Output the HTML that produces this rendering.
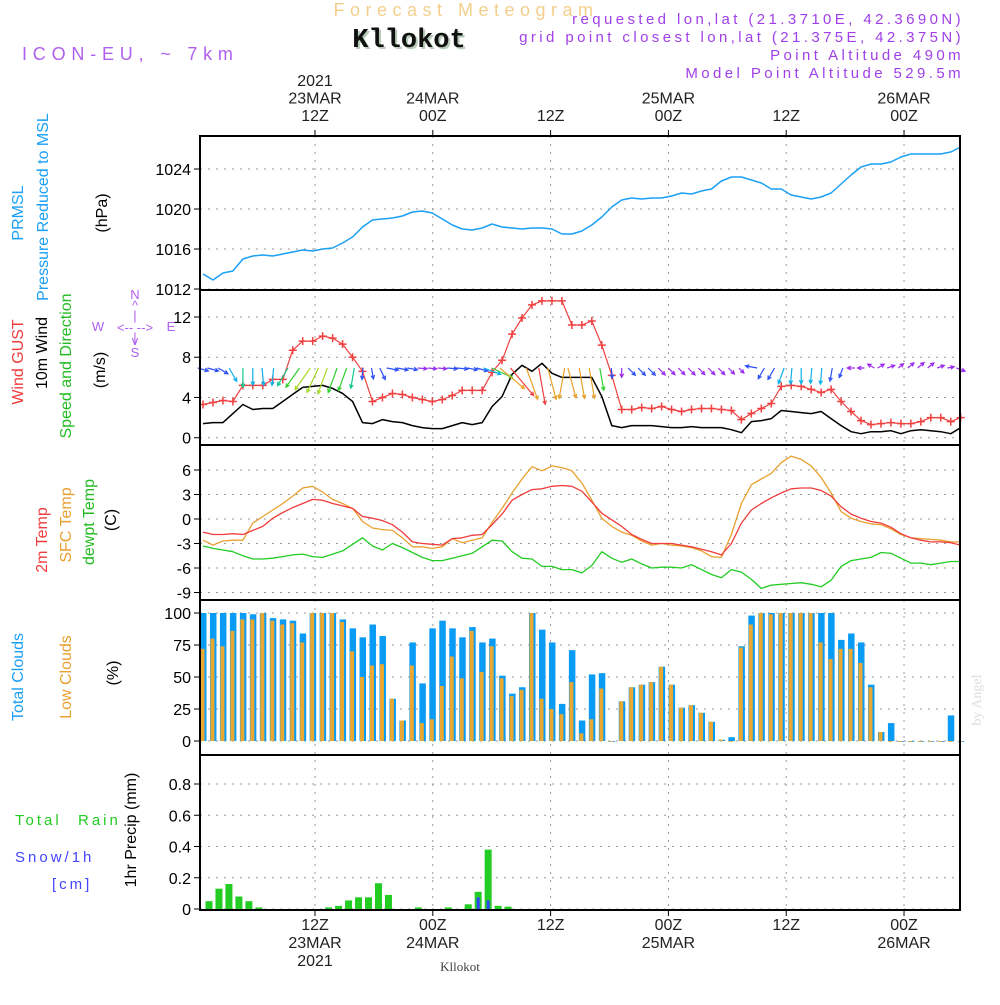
<!DOCTYPE html>
<html><head><meta charset="utf-8">
<style>
html,body{margin:0;padding:0;background:#fff;}
body{width:1000px;height:1000px;overflow:hidden;font-family:"Liberation Sans",sans-serif;}
svg text{font-family:"Liberation Sans",sans-serif;}
</style></head>
<body>
<svg id="chart" width="1000" height="1000" viewBox="0 0 1000 1000" xmlns="http://www.w3.org/2000/svg">
<text x="466" y="16" text-anchor="middle" font-size="18" fill="#f3cf8c" letter-spacing="5.5">Forecast Meteogram</text>
<text x="411" y="49" text-anchor="middle" font-size="27" font-weight="bold" fill="#b9cbb9" style="font-family:'Liberation Mono',monospace">Kllokot</text>
<text x="409" y="47" text-anchor="middle" font-size="27" font-weight="bold" fill="#111" style="font-family:'Liberation Mono',monospace">Kllokot</text>
<text x="22" y="60" font-size="18" fill="#b060ee" letter-spacing="5.8">ICON-EU, ~ 7km</text>
<g font-size="15" fill="#a040e8" text-anchor="end" letter-spacing="3.4">
<text x="964" y="24">requested lon,lat (21.3710E, 42.3690N)</text>
<text x="964" y="42">grid point closest lon,lat (21.375E, 42.375N)</text>
<text x="964" y="60">Point Altitude 490m</text>
<text x="964" y="78">Model Point Altitude 529.5m</text>
</g>
<g id="grid"></g>
<g id="marks"></g>
<g id="frames"></g>
<g id="labels"></g>
<text transform="translate(981,700) rotate(-90)" text-anchor="middle" font-size="14" fill="#ddd" style="font-family:'Liberation Serif',serif">by Angel</text>
<text x="460" y="971" text-anchor="middle" font-size="13" fill="#444" style="font-family:'Liberation Serif',serif">Kllokot</text>
</svg>
<script>
// ---- data ----
const pressure=[1013.5,1012.9,1013.6,1013.8,1015.0,1015.3,1015.4,1015.3,1015.5,1015.7,1015.9,1015.8,1016.0,1016.1,1016.6,1017.2,1018.2,1018.9,1019.0,1019.1,1019.3,1019.7,1019.8,1019.6,1019.0,1018.4,1018.0,1017.9,1018.1,1018.5,1018.2,1018.1,1018.0,1018.1,1018.1,1018.0,1017.5,1017.5,1017.8,1018.4,1019.2,1020.2,1020.9,1021.1,1021.0,1021.1,1021.1,1021.3,1021.6,1021.5,1021.8,1022.0,1022.8,1023.2,1023.2,1022.9,1022.6,1022.0,1022.0,1021.4,1021.2,1021.0,1021.2,1021.6,1022.5,1023.4,1024.2,1024.5,1024.5,1024.7,1025.2,1025.5,1025.5,1025.5,1025.5,1025.7,1026.2];
const gust=[3.3,3.5,3.7,3.6,5.2,5.2,5.2,5.8,5.8,8.7,9.6,9.6,10.1,9.9,9.3,8.0,6.6,3.6,4.0,4.4,4.3,4.0,3.8,3.6,3.8,4.2,4.7,4.7,4.7,6.5,7.7,10.3,11.9,13.2,13.6,13.6,13.6,11.2,11.2,11.6,9.2,6.2,2.8,2.8,3.0,2.9,3.1,2.8,2.6,2.8,2.9,2.9,2.8,2.7,1.8,2.4,2.9,3.4,5.1,5.2,5.1,4.8,4.5,4.8,3.6,2.6,1.7,1.3,1.4,1.5,1.4,1.4,1.6,2.0,2.0,1.6,2.0];
const wind10=[1.4,1.5,1.5,2.4,3.3,2.8,2.9,2.9,3.6,4.3,5.0,5.1,5.2,4.9,4.4,3.6,1.5,1.4,1.8,1.6,1.5,1.2,1.0,0.9,0.9,1.2,1.5,1.3,1.5,3.1,4.1,6.3,7.2,6.6,7.4,6.4,6.0,6.0,6.0,6.0,4.1,1.2,1.0,1.2,1.2,1.2,1.1,1.0,1.0,1.1,1.0,1.0,1.0,0.8,0.5,1.6,1.7,1.9,2.7,2.6,2.5,2.4,2.6,1.9,1.2,0.6,0.4,0.6,0.6,0.7,0.4,0.7,0.8,0.7,0.6,0.4,1.0];
const windDir=[15,15,30,60,90,90,85,95,120,125,125,115,110,110,110,100,95,80,65,10,10,10,5,5,5,5,5,10,15,20,25,40,50,70,80,75,100,75,80,80,80,85,90,45,45,45,45,45,45,45,45,45,45,45,45,-170,120,120,110,95,90,95,95,100,110,180,180,-150,-30,-20,-40,-40,-40,-40,-20,-10,20];
const temp2m=[-1.6,-1.9,-1.9,-1.8,-1.9,-1.4,-0.9,0.1,0.8,1.4,1.9,2.4,2.3,1.9,1.6,1.3,0.3,0.1,-0.2,-0.7,-1.6,-2.8,-3.0,-3.1,-3.2,-2.4,-2.3,-2.0,-1.9,-0.7,0.6,2.3,3.0,3.6,3.7,4.0,4.1,4.0,3.4,2.1,0.7,-0.1,-0.9,-1.9,-2.5,-3.0,-3.0,-3.0,-3.2,-3.4,-3.7,-4.0,-4.4,-3.0,-0.5,1.1,1.9,2.6,3.2,3.7,3.8,3.8,3.5,2.8,1.5,0.6,0.1,-0.3,-0.5,-1.0,-1.8,-2.3,-2.6,-2.8,-2.8,-2.9,-3.2];
const sfcTemp=[-2.6,-3.2,-2.7,-2.6,-2.6,-0.5,0.3,1.1,1.9,2.8,3.8,4.0,3.3,2.4,1.9,1.3,-0.3,-1.1,-1.3,-1.4,-2.3,-3.4,-3.4,-3.6,-3.4,-2.4,-2.9,-2.6,-2.3,-0.4,1.3,3.2,4.9,6.4,5.9,6.5,6.3,5.9,4.4,2.3,0.1,-0.9,-1.6,-2.0,-2.7,-3.2,-3.0,-3.2,-3.3,-3.5,-3.9,-4.6,-4.7,-1.9,1.9,4.2,4.9,5.6,6.9,7.7,7.3,6.5,5.1,3.2,0.9,0.1,-0.3,-0.6,-0.7,-1.2,-1.9,-2.3,-2.4,-2.5,-2.6,-2.8,-2.8];
const dewpt=[-3.3,-3.6,-3.8,-4.0,-4.5,-4.9,-4.9,-4.8,-4.6,-4.4,-4.3,-4.6,-4.7,-4.3,-3.9,-3.1,-2.3,-3.3,-3.8,-3.0,-3.5,-4.1,-4.7,-5.1,-5.1,-4.8,-4.5,-4.2,-3.4,-2.6,-2.7,-4.0,-4.8,-4.9,-5.8,-5.8,-6.2,-6.2,-6.6,-5.7,-4.0,-4.8,-5.3,-4.9,-5.5,-6.0,-5.9,-5.9,-6.0,-5.6,-6.2,-6.8,-7.2,-6.2,-6.5,-7.4,-8.5,-8.1,-8.0,-7.9,-7.8,-8.0,-8.3,-7.5,-5.8,-5.1,-4.9,-4.7,-4.1,-4.2,-4.8,-5.4,-5.4,-5.6,-5.4,-5.2,-5.2];
const totalClouds=[100,100,100,100,100,99,100,96,95,94,84,100,100,100,95,88,81,91,82,33,16,77,45,88,94,88,81,89,77,80,51,37,42,100,87,77,29,71,16,52,53,0,31,42,44,46,58,44,26,28,22,15,1,3,74,98,100,100,100,100,100,100,100,100,79,84,77,44,7,14,0,0,0,0,0,20,0];
const lowClouds=[72,80,74,86,95,95,100,94,91,92,77,100,100,100,93,70,50,59,60,33,16,59,14,17,43,66,49,86,54,74,49,35,40,100,33,25,21,46,6,17,41,0,31,42,44,46,58,44,26,28,22,15,1,0,73,91,100,99,100,100,100,100,77,64,72,72,61,42,7,0,0,0,0,0,0,0,0];
const rain=[0.05,0.13,0.16,0.08,0.05,0.01,0,0,0,0,0,0,0.01,0.02,0.055,0.075,0.075,0.165,0.09,0,0,0.01,0,0,0.01,0,0.03,0.11,0.38,0.02,0.015,0,0,0,0,0,0,0,0,0,0,0,0,0,0,0,0,0,0,0,0,0,0,0,0,0,0,0,0,0,0,0,0,0,0,0,0,0,0,0,0,0,0,0,0,0,0];
const snow=[0,0,0,0,0,0,0,0,0,0,0,0,0,0,0,0,0,0,0,0,0,0,0,0,0,0,0,0.075,0.055,0,0,0,0,0,0,0,0,0,0,0,0,0,0,0,0,0,0,0,0,0,0,0,0,0,0,0,0,0,0,0,0,0,0,0,0,0,0,0,0,0,0,0,0,0,0];
const timeHours=[12,24,36,48,60,72];
const timeTopLabels=[["2021","23MAR","12Z"],["24MAR","00Z"],["12Z"],["25MAR","00Z"],["12Z"],["26MAR","00Z"]];
const timeBottomLabels=[["12Z","23MAR","2021"],["00Z","24MAR"],["12Z"],["00Z","25MAR"],["12Z"],["00Z","26MAR"]];
const pTicks=[1012,1016,1020,1024];
const wTicks=[0,4,8,12];
const tTicks=[-9,-6,-3,0,3,6];
const cTicks=[0,25,50,75,100];
const rTicks=[0,0.2,0.4,0.6,0.8];

// ---- layout/scales ----
const X0=200,X1=960;
const xT=h=>315+(h-12)*9.817;
const xi=i=>203+i*9.97;
const lin=(d0,d1,r0,r1)=>v=>r0+(v-d0)*(r1-r0)/(d1-d0);
const yP=lin(1012,1024,289,169);
const yW=lin(0,12,437.7,317);
const yTm=lin(0,6,519,470);
const yC=lin(0,100,741,613);
const yR=lin(0,0.8,909,784);
const panels=[[136,290],[290,445],[445,600],[600,755],[755,910]];
const NS='http://www.w3.org/2000/svg';
function mk(tag,attrs,parent){const e=document.createElementNS(NS,tag);for(const k in attrs)e.setAttribute(k,attrs[k]);parent.appendChild(e);return e;}
const grid=document.getElementById('grid'),marks=document.getElementById('marks'),frames=document.getElementById('frames'),labels=document.getElementById('labels');

timeHours.forEach(h=>{
  const l=mk('line',{x1:xT(h),x2:xT(h),y1:136,y2:910,stroke:'#999','stroke-dasharray':'2,6','stroke-width':1},grid);
  
  
});
function hTicks(ticks,sc,fmt,name){
  ticks.forEach(v=>{
    const y=sc(v);
    const g=mk('line',{x1:X0,x2:X1,y1:y,y2:y,stroke:'#999','stroke-dasharray':'2,6','stroke-width':1},grid);
    
    
    mk('line',{x1:X0-6,x2:X0,y1:y,y2:y,stroke:'#000','stroke-width':1},frames);
    const t=mk('text',{x:X0-9,y:y+6,'text-anchor':'end','font-size':16,fill:'#000'},labels);
    t.textContent=fmt(v);
    
    
  });
}
hTicks(pTicks,yP,v=>v,'pressure');
hTicks(wTicks,yW,v=>v,'wind');
hTicks(tTicks,yTm,v=>v,'temp');
hTicks(cTicks,yC,v=>v,'cloud');
hTicks(rTicks,yR,v=>v===0?'0':v.toFixed(1),'precip');

panels.forEach((p,k)=>{
  const r=mk('rect',{x:X0,y:p[0],width:X1-X0,height:p[1]-p[0],fill:'none',stroke:'#000','stroke-width':2},frames);
  
  
});
timeHours.forEach((h,k)=>{
  const x=xT(h);
  mk('line',{x1:x,x2:x,y1:130,y2:136,stroke:'#000'},frames);
  mk('line',{x1:x,x2:x,y1:910,y2:916,stroke:'#000'},frames);
  const top=timeTopLabels[k];
  top.forEach((s,j)=>{
    const t=mk('text',{x:x,y:127-(top.length-1-j)*17.5-6,'text-anchor':'middle','font-size':16,fill:'#222'},labels);
    t.textContent=s;
    
    
  });
  timeBottomLabels[k].forEach((s,j)=>{
    const t=mk('text',{x:x,y:930+j*18,'text-anchor':'middle','font-size':16,fill:'#222'},labels);
    t.textContent=s;
    
    
  });
});

function line(arr,sc,color,w,name){
  const d=arr.map((v,i)=>(i?'L':'M')+xi(i).toFixed(1)+','+sc(v).toFixed(1)).join('');
  const p=mk('path',{d:d,fill:'none',stroke:color,'stroke-width':w,'stroke-linejoin':'round'},marks);
  
  
  return p;
}
line(pressure,yP,'#1ba0f5',1.5,'pressure-line');
totalClouds.forEach((v,i)=>{
  const x=xi(i);
  const b=mk('rect',{x:x-3,y:yC(v),width:6.5,height:Math.max(0.8,yC(0)-yC(v)),fill:'#0a9cf5'},marks);
  
  
  const lv=lowClouds[i];
  const o=mk('rect',{x:x-2.5,y:yC(lv),width:4,height:Math.max(0.8,yC(0)-yC(lv)),fill:'#e8a832'},marks);
  
  
});
rain.forEach((v,i)=>{
  if(v<=0)return;
  const x=xi(i)+6;
  const b=mk('rect',{x:x-3.5,y:yR(v),width:7,height:yR(0)-yR(v),fill:'#22cc22'},marks);
  
  
  const s=snow[i];
  if(s>0){
    const sb=mk('rect',{x:x-1.5,y:yR(s),width:3,height:yR(0)-yR(s),fill:'#3344ff'},marks);
    
    
  }
});
line(sfcTemp,yTm,'#e8a030',1.3,'sfc-temp-line');
line(temp2m,yTm,'#f03c3c',1.3,'temp-2m-line');
line(dewpt,yTm,'#22cc22',1.3,'dewpoint-line');
line(wind10,yW,'#000',1.5,'wind-10m-line');
line(gust,yW,'#f04040',1.2,'wind-gust-line');
gust.forEach((v,i)=>{
  const x=xi(i),y=yW(v);
  const m=mk('path',{d:`M${x-4},${y}H${x+4}M${x},${y-4}V${y+4}`,stroke:'#f04040','stroke-width':1.5},marks);
  
  
});
function windColor(s){
  if(s<1.2)return '#9a2cf0';
  if(s<2)return '#2c50f5';
  if(s<3.2)return '#10b0e8';
  if(s<4)return '#10c890';
  if(s<5)return '#30d030';
  if(s<5.8)return '#a8d828';
  if(s<7)return '#e8a028';
  return '#f04040';
}
windDir.forEach((a,i)=>{
  const s=wind10[i];
  const L=5+s*4.3;
  const r=a*Math.PI/180;
  const x0=xi(i)-L*Math.cos(r)*0.5, y0=368;
  const x1=x0+L*Math.cos(r), y1=y0+L*Math.sin(r);
  const h1=r+Math.PI*0.85,h2=r-Math.PI*0.85;
  const d=`M${x0.toFixed(1)},${y0}L${x1.toFixed(1)},${y1.toFixed(1)}M${(x1+4*Math.cos(h1)).toFixed(1)},${(y1+4*Math.sin(h1)).toFixed(1)}L${x1.toFixed(1)},${y1.toFixed(1)}L${(x1+4*Math.cos(h2)).toFixed(1)},${(y1+4*Math.sin(h2)).toFixed(1)}`;
  const p=mk('path',{d:d,fill:'none',stroke:windColor(s),'stroke-width':1.2},marks);
  
  
});

function vtext(x,y,txt,color,name,size){
  const t=mk('text',{transform:`translate(${x},${y}) rotate(-90)`,'text-anchor':'middle','font-size':size||16,fill:color},labels);
  t.textContent=txt;
  
  
}
vtext(23,213,'PRMSL','#1ba0f5','pressure-title');
vtext(48,207,'Pressure Reduced to MSL','#1ba0f5','pressure-subtitle');
vtext(107,213,'(hPa)','#000','pressure-unit');
vtext(23,362,'Wind GUST','#f03c3c','gust-title');
vtext(47,353,'10m Wind','#000','wind-title');
vtext(71,366,'Speed and Direction','#22bb22','wind-direction-title');
vtext(105,370,'(m/s)','#000','wind-unit');
vtext(47,540,'2m Temp','#f03c3c','temp-2m-title');
vtext(71,525,'SFC Temp','#e8a030','sfc-temp-title');
vtext(94,522,'dewpt Temp','#22bb22','dewpoint-title');
vtext(116,520,'(C)','#000','temp-unit');
vtext(23,677,'Total Clouds','#1ba0f5','total-clouds-title');
vtext(71,677,'Low Clouds','#e8a030','low-clouds-title');
vtext(118,673,'(%)','#000','cloud-unit');
vtext(136,830,'1hr Precip (mm)','#000','precip-title');
[['Total',15,825,'#22cc22','rain-legend-total'],['Rain',78,825,'#22cc22','rain-legend'],['Snow/1h',15,862,'#4444ff','snow-legend'],['[cm]',52,889,'#4444ff','snow-unit']].forEach(d=>{
  const t=mk('text',{x:d[1],y:d[2],'font-size':15,fill:d[3],'letter-spacing':3},labels);
  t.textContent=d[0];
  
  
});
const cg=mk('g',{fill:'#b060ee','font-size':13,'text-anchor':'middle'},labels);


[['N',135,299],['^',135,310],['|',135,320],['W',98,331],['<-- -->',135,332],['E',171,331],['|',135,342],['v',135,345],['S',135,357]].forEach(d=>{
  const t=mk('text',{x:d[1],y:d[2]},cg);t.textContent=d[0];
});
</script>
</body></html>
